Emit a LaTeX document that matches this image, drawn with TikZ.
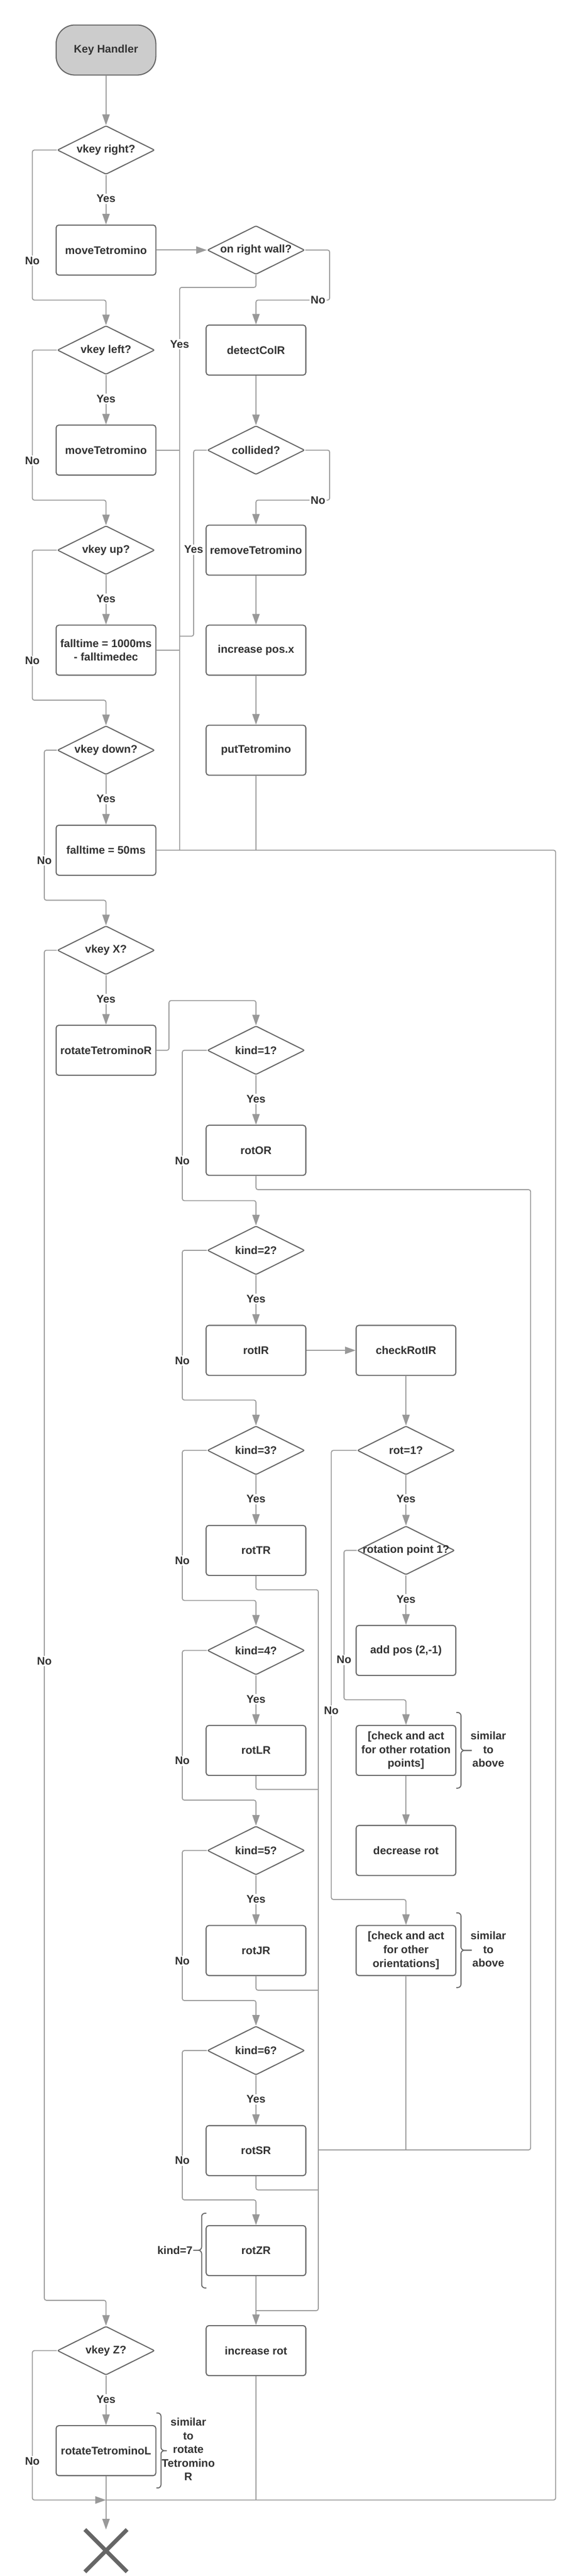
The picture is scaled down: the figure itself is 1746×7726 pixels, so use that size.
\documentclass[tikz,border=0pt]{standalone}
\usepackage{fontspec}
\setmainfont{Liberation Sans}
\usetikzlibrary{shapes.geometric,arrows.meta}
\definecolor{bord}{HTML}{666666}
\definecolor{linegray}{HTML}{999999}
\definecolor{txt}{HTML}{333333}
\definecolor{startfill}{HTML}{CCCCCC}
\newcommand{\zw}[1]{\makebox[0pt]{#1}}
\begin{document}
\begin{tikzpicture}[x=0.5pt,y=-0.5pt,
  every node/.style={font=\fontsize{16.5}{20.5}\selectfont\bfseries, text=txt},
  box/.style={draw=bord, line width=1.6pt, rectangle, rounded corners=4pt, minimum width=149.5pt, minimum height=75pt, inner sep=2pt, align=center, fill=white},
  dec/.style={draw=bord, line width=1.6pt, diamond, aspect=2, minimum width=146pt, minimum height=73pt, inner sep=0pt, rounded corners=2pt, fill=white},
  startbox/.style={box, fill=startfill, rounded corners=28pt},
  cline/.style={draw=linegray, line width=1.4pt, rounded corners=3pt},
  arr/.style={cline, -{Triangle[width=11pt,length=16pt]}},
  lbl/.style={fill=white, inner sep=2pt},
  brc/.style={draw=bord, line width=1.5pt, rounded corners=5pt},
]
\fill[white] (0,0) rectangle (1746,7726);
\useasboundingbox (0,0) rectangle (1746,7726);

% nodes
\node[startbox] (kh) at (318,150) {Key Handler};
\node[dec] (vr) at (318,450) {\zw{vkey right?}};
\node[box] (mt1) at (318,750) {moveTetromino};
\node[dec] (orw) at (768,750) {\zw{on right wall?}};
\node[dec] (vl) at (318,1050) {\zw{vkey left?}};
\node[box] (dcr) at (768,1050) {detectColR};
\node[box] (mt2) at (318,1350) {moveTetromino};
\node[dec] (col) at (768,1350) {\zw{collided?}};
\node[dec] (vu) at (318,1650) {\zw{vkey up?}};
\node[box] (rmt) at (768,1650) {removeTetromino};
\node[box] (ft1) at (318,1950) {falltime = 1000ms\\- falltimedec};
\node[box] (ipx) at (768,1950) {increase pos.x};
\node[dec] (vd) at (318,2250) {\zw{vkey down?}};
\node[box] (ptt) at (768,2250) {putTetromino};
\node[box] (ft2) at (318,2550) {falltime = 50ms};
\node[dec] (vx) at (318,2850) {\zw{vkey X?}};
\node[box] (rotR) at (318,3150) {rotateTetrominoR};
\node[dec] (k1) at (768,3150) {\zw{kind=1?}};
\node[box] (rOR) at (768,3450) {rotOR};
\node[dec] (k2) at (768,3750) {\zw{kind=2?}};
\node[box] (rIR) at (768,4050) {rotIR};
\node[box] (cIR) at (1218,4050) {checkRotIR};
\node[dec] (k3) at (768,4350) {\zw{kind=3?}};
\node[dec] (r1) at (1218,4350) {\zw{rot=1?}};
\node[box] (rTR) at (768,4650) {rotTR};
\node[dec] (rp1) at (1218,4650) {\zw{rotation point 1?}};
\node[dec] (k4) at (768,4950) {\zw{kind=4?}};
\node[box] (apos) at (1218,4950) {add pos (2,-1)};
\node[box] (rLR) at (768,5250) {rotLR};
\node[box] (carp) at (1218,5250) {[check and act\\for other rotation\\points]};
\node[dec] (k5) at (768,5550) {\zw{kind=5?}};
\node[box] (drot) at (1218,5550) {decrease rot};
\node[box] (rJR) at (768,5850) {rotJR};
\node[box] (cao) at (1218,5850) {[check and act\\for other\\orientations]};
\node[dec] (k6) at (768,6150) {\zw{kind=6?}};
\node[box] (rSR) at (768,6450) {rotSR};
\node[box] (rZR) at (768,6750) {rotZR};
\node[dec] (vz) at (318,7050) {\zw{vkey Z?}};
\node[box] (irot) at (768,7050) {increase rot};
\node[box] (rotL) at (318,7350) {rotateTetrominoL};
\node[minimum width=63pt, minimum height=63pt, inner sep=0pt] (endX) at (318,7650) {};

% junctions
\coordinate (jA) at (539,2550);
\coordinate (jR) at (1667,2550);
\coordinate (jRB) at (1667,7498);
\coordinate (jE) at (318,7498);
\coordinate (jIR) at (768,7498);
\coordinate (jL) at (97,7498);
\coordinate (jMT) at (539,1350);
\coordinate (jFT) at (539,1950);
\coordinate (jCol) at (539,1908);
\coordinate (jPT) at (768,2550);
\coordinate (jS) at (955,6448);
\coordinate (jC) at (1218,6448);
\coordinate (jZ) at (768,6930);
\coordinate (j4) at (955,5367);
\coordinate (j5) at (955,5969);
\coordinate (j6) at (955,6568);

% connectors
\draw[arr] (kh) -- (vr);
\draw[arr] (vr) -- (mt1);
\draw[arr] (vr.west) -| (97,900) -| (vl.north);
\draw[arr] (mt1) -- (orw);
\draw[arr] (orw.east) -| (989,900) -| (dcr.north);
\draw[cline] (orw.south) |- (539,862) -- (jA);
\draw[arr] (dcr) -- (col);
\draw[arr] (vl) -- (mt2);
\draw[arr] (vl.west) -| (97,1500) -| (vu.north);
\draw[cline] (mt2.east) -- (jMT);
\draw[arr] (col.east) -| (989,1500) -| (rmt.north);
\draw[cline] (col.west) -| (581,1908) -- (jCol);
\draw[arr] (rmt) -- (ipx);
\draw[arr] (ipx) -- (ptt);
\draw[cline] (ptt.south) -- (jPT);
\draw[arr] (vu) -- (ft1);
\draw[arr] (vu.west) -| (97,2100) -| (vd.north);
\draw[cline] (ft1.east) -- (jFT);
\draw[arr] (vd) -- (ft2);
\draw[arr] (vd.west) -| (133,2700) -| (vx.north);
\draw[cline] (ft2.east) -- (jR) -- (jRB) -- (jE);
\draw[arr] (vx) -- (rotR);
\draw[arr] (vx.west) -| (133,6899) -| (vz.north);
\draw[arr] (rotR.east) -- (507,3150) |- (768,3001) -- (k1.north);
\draw[arr] (k1) -- (rOR);
\draw[arr] (k1.west) -| (547,3601) -| (k2.north);
\draw[cline] (rOR.south) |- (1592,3568) |- (jS);
\draw[arr] (k2) -- (rIR);
\draw[arr] (rIR) -- (cIR);
\draw[arr] (k2.west) -| (547,4199) -| (k3.north);
\draw[arr] (cIR) -- (r1);
\draw[arr] (r1) -- (rp1);
\draw[arr] (r1.west) -| (994,5697) -| (cao.north);
\draw[arr] (rp1) -- (apos);
\draw[arr] (rp1.west) -| (1032,5098) -| (carp.north);
\draw[arr] (carp) -- (drot);
\draw[cline] (cao.south) -- (jC);
\draw[arr] (k3) -- (rTR);
\draw[arr] (k3.west) -| (547,4800) -| (k4.north);
\draw[cline] (rTR.south) |- (955,4768) |- (jZ);
\draw[arr] (k4) -- (rLR);
\draw[arr] (k4.west) -| (547,5399) -| (k5.north);
\draw[cline] (rLR.south) |- (j4);
\draw[arr] (k5) -- (rJR);
\draw[arr] (k5.west) -| (547,6000) -| (k6.north);
\draw[cline] (rJR.south) |- (j5);
\draw[arr] (k6) -- (rSR);
\draw[arr] (k6.west) -| (547,6598) -| (rZR.north);
\draw[cline] (rSR.south) |- (j6);
\draw[arr] (rZR) -- (irot);
\draw[arr] (vz) -- (rotL);
\draw[arr] (vz.west) -| (jL) -- (jE);
\draw[cline] (irot.south) -- (jIR);
\draw[arr] (rotL) -- (endX);

% end X
\draw[draw=bord, line width=6pt] (endX.north west) -- (endX.south east) (endX.north east) -- (endX.south west);

% labels
\node[lbl] (y1) at (318,596) {Yes};
\node[lbl] (y2) at (318,1196) {Yes};
\node[lbl] (y3) at (318,1796) {Yes};
\node[lbl] (y4) at (318,2396) {Yes};
\node[lbl] (y5) at (318,2996) {Yes};
\node[lbl] (y6) at (768,3296) {Yes};
\node[lbl] (y7) at (768,3896) {Yes};
\node[lbl] (y8) at (768,4496) {Yes};
\node[lbl] (y9) at (1218,4496) {Yes};
\node[lbl] (y10) at (1218,4796) {Yes};
\node[lbl] (y11) at (768,5096) {Yes};
\node[lbl] (y12) at (768,5696) {Yes};
\node[lbl] (y13) at (768,6296) {Yes};
\node[lbl] (y14) at (318,7196) {Yes};
\node[lbl] (y15) at (539,1032) {Yes};
\node[lbl] (y16) at (581,1648) {Yes};
\node[lbl] (n1) at (97,782) {No};
\node[lbl] (n2) at (97,1382) {No};
\node[lbl] (n3) at (97,1982) {No};
\node[lbl] (n4) at (133,2581) {No};
\node[lbl] (n5) at (133,4982) {No};
\node[lbl] (n6) at (97,7381) {No};
\node[lbl] (n7) at (954,900) {No};
\node[lbl] (n8) at (954,1500) {No};
\node[lbl] (n9) at (547,3481) {No};
\node[lbl] (n10) at (547,4081) {No};
\node[lbl] (n11) at (547,4681) {No};
\node[lbl] (n12) at (547,5281) {No};
\node[lbl] (n13) at (547,5881) {No};
\node[lbl] (n14) at (547,6480) {No};
\node[lbl] (n15) at (1032,4978) {No};
\node[lbl] (n16) at (994,5130) {No};

% braces and notes
\draw[brc] (1369,5136) -- (1383,5136) -- (1383,5250) -- (1415,5250);
\draw[brc] (1415,5250) -- (1383,5250) -- (1383,5363) -- (1369,5363);
\draw[brc] (1369,5737) -- (1383,5737) -- (1383,5849) -- (1415,5849);
\draw[brc] (1415,5849) -- (1383,5849) -- (1383,5961) -- (1369,5961);
\draw[brc] (619,6638) -- (605,6638) -- (605,6749) -- (580,6749);
\draw[brc] (580,6749) -- (605,6749) -- (605,6862) -- (619,6862);
\draw[brc] (469,7237) -- (483,7237) -- (483,7350) -- (500,7350);
\draw[brc] (500,7350) -- (483,7350) -- (483,7462) -- (469,7462);
\node[align=center] (s1) at (1465,5247) {similar\\to\\above};
\node[align=center] (s2) at (1465,5846) {similar\\to\\above};
\node[anchor=east, inner sep=1pt] (k7) at (580,6749) {kind=7};
\node[align=center] (s3) at (565,7346) {similar\\to\\rotate\\Tetromino\\R};
\end{tikzpicture}
\end{document}
